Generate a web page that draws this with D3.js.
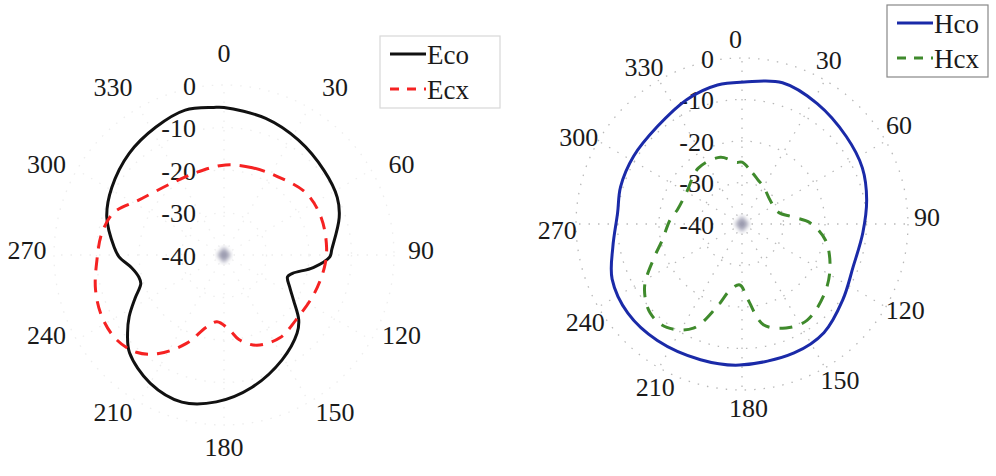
<!DOCTYPE html>
<html>
<head>
<meta charset="utf-8">
<script src="https://cdn.jsdelivr.net/npm/d3@7"></script>
<style>
  body { margin: 0; background: #fff; }
</style>
</head>
<body>
<svg id="chart" width="996" height="476"></svg>
<script>
// angle ticks and radial ticks (dB)
const angleTicks = [0, 30, 60, 90, 120, 150, 180, 210, 240, 270, 300, 330]
const radialTicks = [0, -10, -20, -30, -40]

// E-plane, co-pol (deg, dB)
const ecoAngles = [0, 17, 33, 50, 63, 72, 87, 91, 98, 105, 109, 116, 123, 131, 137, 151, 168, 183, 196, 210, 224, 231, 237, 244, 251, 255.5, 262, 269, 274, 288, 301, 317, 332, 345, 356]
const ecoValues = [-5.3, -6.4, -7.8, -9.2, -10.1, -11.5, -14.6, -15.1, -18.8, -23.3, -24.2, -22.8, -20.5, -16.7, -14.8, -11.8, -8.2, -5.4, -4.0, -5.2, -8.0, -10.8, -13.4, -16.7, -19.3, -19.3, -18.1, -15.3, -14.1, -11.0, -9.2, -7.3, -5.9, -4.7, -5.2]

// E-plane, cross-pol
const ecxAngles = [1, 18, 35, 53, 69, 86, 97, 113, 132, 146, 160, 170, 176, 186, 194, 203, 213.5, 222, 232, 243, 255, 268, 280, 291, 303, 324, 343]
const ecxValues = [-18.8, -18.4, -17.6, -15.8, -15.5, -15.8, -16.2, -16.9, -17.2, -16.5, -17.4, -19.8, -22.4, -24.2, -22.4, -17.4, -12.2, -9.2, -7.8, -7.8, -8.7, -10.1, -10.8, -12.2, -16.2, -19.1, -19.5]

// H-plane, co-pol
const hcoAngles = [1, 16, 32, 50, 65, 79, 94, 111, 127, 143, 158, 181, 197, 216, 232, 247, 260, 275, 287, 302, 319, 336, 350]
const hcoValues = [-5.8, -4.6, -5.8, -7.2, -8.0, -9.4, -10.8, -11.3, -9.6, -7.2, -6.5, -6.0, -5.8, -5.3, -5.1, -6.0, -8.4, -9.9, -9.4, -9.2, -8.9, -7.2, -6.0]

// H-plane, cross-pol
const hcxAngles = [0, 12, 20, 30, 49, 72, 82, 89, 101, 116, 130, 146, 157, 168, 175.5, 182, 190, 197, 205, 216, 226, 237, 248, 259, 273, 283, 300, 322, 342, 355]
const hcxValues = [-25.1, -27.5, -28.7, -29.6, -31.1, -30.8, -27.7, -23.6, -19.5, -16.4, -14.0, -12.0, -12.8, -15.2, -21.7, -25.3, -23.9, -19.0, -12.3, -9.2, -9.2, -12.0, -16.9, -20.5, -22.6, -24.1, -24.6, -22.9, -23.1, -25.1]

const FONT = "'Liberation Serif', 'Times New Roman', 'DejaVu Serif', serif"
const svg = d3.select("#chart").attr("font-family", FONT)
const rad = d => d * Math.PI / 180

const drawPolar = function (opts) {
  const g = svg.append("g").attr("transform", `translate(${opts.cx},${opts.cy})`)
  const r = d3.scaleLinear().domain([-40, 0]).range([0, opts.R])

  // dotted grid
  const grid = g.append("g").attr("stroke", "#8a8a8a").attr("fill", "none")
    .attr("stroke-width", 1.3)
    .attr("stroke-dasharray", "1.5,8").attr("opacity", opts.gridOpacity)
  grid.selectAll("circle").data(radialTicks.filter(t => t > -40)).join("circle")
    .attr("r", d => r(d))
  grid.selectAll("line").data(angleTicks).join("line")
    .attr("x1", 0).attr("y1", 0)
    .attr("x2", d => r(0) * Math.sin(rad(d)))
    .attr("y2", d => -r(0) * Math.cos(rad(d)))

  // blurry centre mark
  g.append("path").attr("d", "M0,-8L7,0L0,8L-7,0Z")
    .attr("fill", "#9c9cb0").attr("filter", "url(#blur)")

  // angle labels (the scanned labels sit a little off the ideal circle)
  const labAng = d => rad(d + opts.rot + opts.warp * Math.sin(rad(2 * d)))
  g.selectAll(".alab").data(angleTicks).join("text")
    .attr("class", "alab")
    .attr("x", d => opts.labDx + opts.labR * Math.sin(labAng(d)))
    .attr("y", d => opts.labDy - opts.labR * Math.cos(labAng(d)))
    .attr("text-anchor", "middle").attr("dominant-baseline", "central")
    .attr("font-family", FONT)
    .style("font-size", "26px").style("fill", "#1a1a1a")
    .text(d => d)

  // radial labels
  g.selectAll(".rlab").data(radialTicks).join("text")
    .attr("class", "rlab")
    .attr("x", -28)
    .attr("y", d => -r(d) + 1)
    .attr("text-anchor", "end").attr("dominant-baseline", "central")
    .attr("font-family", FONT)
    .style("font-size", "26px").style("fill", "#1a1a1a")
    .text(d => d)

  const line = d3.lineRadial()
    .angle(d => rad(d[0]))
    .radius(d => r(d[1]))
    .curve(d3.curveCatmullRomClosed.alpha(0.5))

  opts.series.forEach(s => {
    g.append("path")
      .datum(d3.zip(s.angles, s.values))
      .attr("d", line)
      .attr("fill", "none")
      .attr("stroke", s.color)
      .attr("stroke-width", 3)
      .attr("stroke-dasharray", s.dash || null)
  })
}

svg.append("defs").append("filter").attr("id", "blur")
  .append("feGaussianBlur").attr("stdDeviation", 2)

drawPolar({
  cx: 224, cy: 255, R: 170, labR: 197, labDx: 0, labDy: -5, rot: 0, warp: 5, gridOpacity: 0.15,
  series: [
    { angles: ecoAngles, values: ecoValues, color: "#111" },
    { angles: ecxAngles, values: ecxValues, color: "#f52222", dash: "13,9" }
  ]
})

drawPolar({
  cx: 742, cy: 224, R: 166, labR: 185, labDx: 0, labDy: 0, rot: -2, warp: 0, gridOpacity: 0.6,
  series: [
    { angles: hcoAngles, values: hcoValues, color: "#1a2aa8" },
    { angles: hcxAngles, values: hcxValues, color: "#3f8a2c", dash: "13,10" }
  ]
})

// legends
const legend = function (x, y, w, h, items, boxColor) {
  const g = svg.append("g").attr("transform", `translate(${x},${y})`)
  g.append("rect").attr("width", w).attr("height", h)
    .attr("fill", "#fff").attr("stroke", boxColor).attr("stroke-width", 1.2)
  items.forEach((it, i) => {
    const yy = 18 + i * 35
    g.append("line").attr("x1", 10).attr("x2", 46).attr("y1", yy).attr("y2", yy)
      .attr("stroke", it.color).attr("stroke-width", 3)
      .attr("stroke-dasharray", it.dash || null)
    g.append("text").attr("x", 47).attr("y", yy + 1)
      .attr("dominant-baseline", "central")
      .attr("font-family", FONT)
      .style("font-size", "27px").style("fill", "#1a1a1a")
      .text(it.label)
  })
}

legend(380, 36, 120, 72, [
  { label: "Eco", color: "#111" },
  { label: "Ecx", color: "#f52222", dash: "9,8" }
], "#d8d8d8")

legend(887, 5, 101, 72, [
  { label: "Hco", color: "#1a2aa8" },
  { label: "Hcx", color: "#3f8a2c", dash: "9,8" }
], "#888")
</script>
</body>
</html>
